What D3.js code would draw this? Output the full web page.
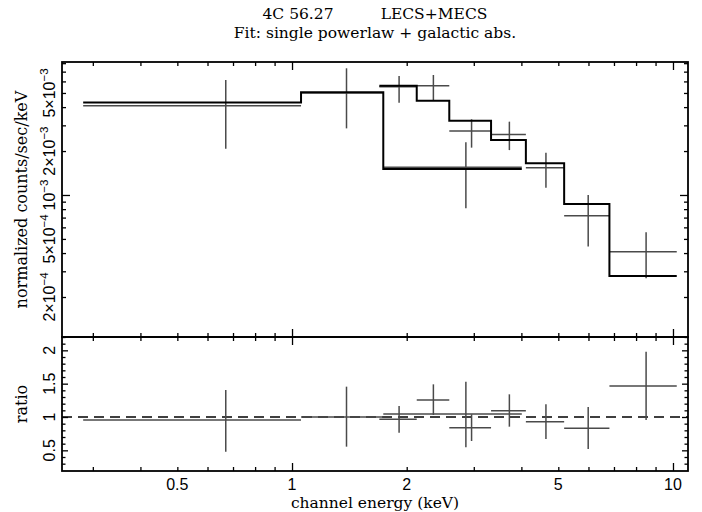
<!DOCTYPE html>
<html>
<head>
<meta charset="utf-8">
<script src="https://cdn.jsdelivr.net/npm/d3@7"></script>
<style>
  body { margin: 0; background: #fff; }
  svg { display: block; }
  .serif { font-family: "DejaVu Serif", "Liberation Serif", serif; }
  .num { font-family: "Liberation Sans", "DejaVu Sans", sans-serif; }
</style>
</head>
<body>
<script>
// LECS spectrum (channel bins in keV, counts/sec/keV)
var lecsLo = [0.283, 1.056, 1.736];
var lecsHi = [1.056, 1.736, 4.01];
var lecsE = [0.670, 1.39, 2.86];
var lecsFlux = [4.09e-3, 5.0e-3, 1.548e-3];
var lecsErrLo = [2.07e-3, 2.86e-3, 0.811e-3];
var lecsErrHi = [6.13e-3, 7.38e-3, 2.30e-3];
var lecsModel = [4.31e-3, 5.05e-3, 1.506e-3];
var lecsRatio = [0.955, 1.0, 1.045];
var lecsRatioLo = [0.48, 0.555, 0.545];
var lecsRatioHi = [1.405, 1.455, 1.53];

// MECS spectrum
var mecsLo = [1.695, 2.125, 2.587, 3.33, 4.11, 5.18, 6.81];
var mecsHi = [2.125, 2.587, 3.33, 4.11, 5.18, 6.81, 10.23];
var mecsE = [1.91, 2.35, 2.96, 3.72, 4.64, 5.99, 8.5];
var mecsFlux = [5.52e-3, 5.61e-3, 2.74e-3, 2.60e-3, 1.538e-3, 0.721e-3, 0.409e-3];
var mecsErrLo = [4.29e-3, 4.42e-3, 2.11e-3, 2.03e-3, 1.12e-3, 0.443e-3, 0.269e-3];
var mecsErrHi = [6.53e-3, 6.64e-3, 3.30e-3, 3.18e-3, 1.95e-3, 1.0e-3, 0.555e-3];
var mecsModel = [5.61e-3, 4.42e-3, 3.23e-3, 2.38e-3, 1.649e-3, 0.868e-3, 0.279e-3];
var mecsRatio = [0.966, 1.255, 0.84, 1.094, 0.93, 0.83, 1.465];
var mecsRatioLo = [0.765, 1.03, 0.64, 0.855, 0.67, 0.52, 0.955];
var mecsRatioHi = [1.165, 1.49, 1.04, 1.34, 1.19, 1.15, 1.98];

// axis ticks
var xMajor = [1, 10];
var xMinor = [0.3, 0.4, 0.5, 0.6, 0.7, 0.8, 0.9, 2, 3, 4, 5, 6, 7, 8, 9];
var xLabels = [0.5, 1, 2, 5, 10];
var yMajor = [1e-3];
var yMinor = [2e-4, 3e-4, 4e-4, 5e-4, 6e-4, 7e-4, 8e-4, 9e-4, 2e-3, 3e-3, 4e-3, 5e-3, 6e-3, 7e-3, 8e-3];
var yLabels = [[2e-4, "2\u00d710", "\u22124"], [5e-4, "5\u00d710", "\u22124"], [1e-3, "10", "\u22123"],
               [2e-3, "2\u00d710", "\u22123"], [5e-3, "5\u00d710", "\u22123"]];
var rMajor = [0.5, 1, 1.5, 2];
var rMinor = d3.range(3, 23).map(function(d) { return d / 10; }).filter(function(d) { return rMajor.indexOf(d) < 0; });

var width = 702, height = 512;
var pl = 62, pr = 688, pt = 62, pm = 337, pb = 471;

var svg = d3.select('body').append('svg')
  .attr('width', width)
  .attr('height', height);

var x = d3.scaleLog().domain([0.249, 10.95]).range([pl, pr]);
var y = d3.scaleLog().domain([1.064e-4, 8.15e-3]).range([pm, pt]);
var r = d3.scaleLinear().domain([0.19, 2.2]).range([pb, pm]);

var dataCol = '#4a4a4a', dataW = 1.5;
var labelSize = 15.5, numSize = 16;

// titles
svg.append('text').attr('class', 'serif').attr('x', 298).attr('y', 19)
  .attr('text-anchor', 'middle').attr('font-size', labelSize).text('4C 56.27');
svg.append('text').attr('class', 'serif').attr('x', 434).attr('y', 19)
  .attr('text-anchor', 'middle').attr('font-size', labelSize).text('LECS+MECS');
svg.append('text').attr('class', 'serif').attr('x', (pl + pr) / 2).attr('y', 38)
  .attr('text-anchor', 'middle').attr('font-size', labelSize).text('Fit: single powerlaw + galactic abs.');

// x ticks on both edges of both panels
[[pt, 1], [pm, -1], [pm, 1], [pb, -1]].forEach(function(p) {
  [[xMinor, 4], [xMajor, 8]].forEach(function(t) {
    var ax = d3.axisBottom(x).tickSize(p[1] * t[1]);
    var g = svg.append('g').attr('transform', 'translate(0,' + p[0] + ')')
      .call(ax.tickValues(t[0]).tickFormat(''));
    g.select('.domain').remove();
    g.selectAll('line').attr('stroke', '#000').attr('stroke-width', 1.3);
  });
});

// y ticks, both panels, both sides
[[pl, 1], [pr, -1]].forEach(function(p) {
  [[yMinor, 4], [yMajor, 8]].forEach(function(t) {
    var ax = d3.axisRight(y).tickSize(p[1] * t[1]);
    var g = svg.append('g').attr('transform', 'translate(' + p[0] + ',0)')
      .call(ax.tickValues(t[0]).tickFormat(''));
    g.select('.domain').remove();
    g.selectAll('line').attr('stroke', '#000').attr('stroke-width', 1.3);
  });
  [[rMinor, 3.5], [rMajor, 6]].forEach(function(t) {
    var ax = d3.axisRight(r).tickSize(p[1] * t[1]);
    var g = svg.append('g').attr('transform', 'translate(' + p[0] + ',0)')
      .call(ax.tickValues(t[0]).tickFormat(''));
    g.select('.domain').remove();
    g.selectAll('line').attr('stroke', '#000').attr('stroke-width', 1.3);
  });
});

// frames
svg.append('rect').attr('x', pl).attr('y', pt).attr('width', pr - pl).attr('height', pm - pt)
  .attr('fill', 'none').attr('stroke', '#000').attr('stroke-width', 1.8);
svg.append('rect').attr('x', pl).attr('y', pm).attr('width', pr - pl).attr('height', pb - pm)
  .attr('fill', 'none').attr('stroke', '#000').attr('stroke-width', 1.8);

// tick labels
var xl = svg.append('g').attr('class', 'num').attr('font-size', numSize);
xl.selectAll('text').data(xLabels).enter().append('text')
  .attr('x', function(d) { return x(d); }).attr('y', 490)
  .attr('text-anchor', 'middle').text(function(d) { return d; });

var yl = svg.append('g').attr('class', 'num').attr('font-size', numSize);
yl.selectAll('text').data(yLabels).enter().append('text')
  .attr('transform', function(d) { return 'translate(55,' + y(d[0]) + ') rotate(-90)'; })
  .attr('text-anchor', 'middle')
  .each(function(d) {
    var t = d3.select(this);
    t.append('tspan').text(d[1]);
    t.append('tspan').attr('dy', -7).attr('font-size', 11.5).text(d[2]);
  });

var rl = svg.append('g').attr('class', 'num').attr('font-size', numSize);
rl.selectAll('text').data(rMajor).enter().append('text')
  .attr('transform', function(d) { return 'translate(55,' + r(d) + ') rotate(-90)'; })
  .attr('text-anchor', 'middle').text(function(d) { return d; });

// axis titles
svg.append('text').attr('class', 'serif').attr('font-size', 16)
  .attr('transform', 'translate(27,' + (pt + pm) / 2 + ') rotate(-90)')
  .attr('text-anchor', 'middle').text('normalized counts/sec/keV');
svg.append('text').attr('class', 'serif').attr('font-size', 16)
  .attr('transform', 'translate(27,' + (pm + pb) / 2 + ') rotate(-90)')
  .attr('text-anchor', 'middle').text('ratio');
svg.append('text').attr('class', 'serif').attr('font-size', labelSize)
  .attr('x', (pl + pr) / 2).attr('y', 508)
  .attr('text-anchor', 'middle').text('channel energy (keV)');

// model step curves
function steps(lo, hi, m) {
  var pts = [];
  for (var i = 0; i < lo.length; i++) {
    pts.push([x(lo[i]), y(m[i])]);
    pts.push([x(hi[i]), y(m[i])]);
  }
  return pts;
}

// data crosses
function crosses(g, lo, hi, e, v, vLo, vHi, sy) {
  var sel = g.selectAll(null).data(d3.range(lo.length)).enter().append('g');
  sel.append('line')
    .attr('x1', function(i) { return x(lo[i]); }).attr('x2', function(i) { return x(hi[i]); })
    .attr('y1', function(i) { return sy(v[i]); }).attr('y2', function(i) { return sy(v[i]); });
  sel.append('line')
    .attr('x1', function(i) { return x(e[i]); }).attr('x2', function(i) { return x(e[i]); })
    .attr('y1', function(i) { return sy(vLo[i]); }).attr('y2', function(i) { return sy(vHi[i]); });
}

var dg = svg.append('g').attr('stroke', dataCol).attr('stroke-width', dataW);
crosses(dg, lecsLo, lecsHi, lecsE, lecsFlux, lecsErrLo, lecsErrHi, y);
crosses(dg, mecsLo, mecsHi, mecsE, mecsFlux, mecsErrLo, mecsErrHi, y);

var line = d3.line();
svg.append('path').attr('d', line(steps(lecsLo, lecsHi, lecsModel)))
  .attr('fill', 'none').attr('stroke', '#000').attr('stroke-width', 2);
svg.append('path').attr('d', line(steps(mecsLo, mecsHi, mecsModel)))
  .attr('fill', 'none').attr('stroke', '#000').attr('stroke-width', 2);

// ratio panel
svg.append('line').attr('x1', pl).attr('x2', pr).attr('y1', r(1)).attr('y2', r(1))
  .attr('stroke', '#000').attr('stroke-width', 1.5).attr('stroke-dasharray', '10,6');

var rg = svg.append('g').attr('stroke', dataCol).attr('stroke-width', dataW);
crosses(rg, lecsLo, lecsHi, lecsE, lecsRatio, lecsRatioLo, lecsRatioHi, r);
crosses(rg, mecsLo, mecsHi, mecsE, mecsRatio, mecsRatioLo, mecsRatioHi, r);
</script>
</body>
</html>
